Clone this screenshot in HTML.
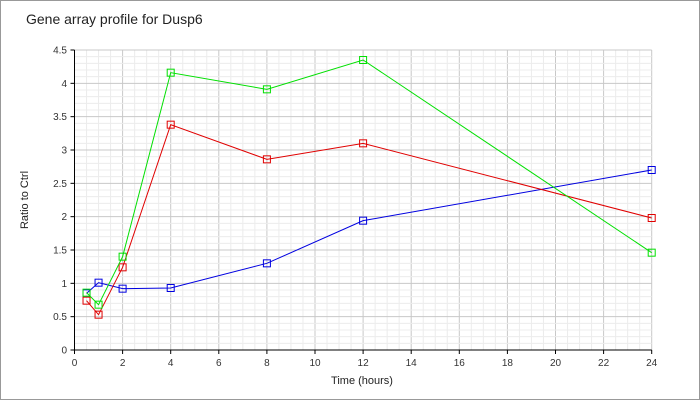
<!DOCTYPE html><html><head><style>body{margin:0;background:#fff}svg{display:block;font-family:"Liberation Sans",sans-serif}</style></head><body>
<svg id="s" width="700" height="400" xmlns="http://www.w3.org/2000/svg">
<rect x="0.5" y="0.5" width="699" height="399" fill="#fff" stroke="#999"/>
<text x="26" y="24" font-size="14" fill="#222">Gene array profile for Dusp6</text>
<text x="362" y="384" font-size="11" text-anchor="middle" fill="#222">Time (hours)</text>
<text transform="translate(28,200) rotate(-90)" font-size="11" text-anchor="middle" fill="#222">Ratio to Ctrl</text>
<g id="g"></g>
</svg>
<script>
var g=document.getElementById('g'),h='';
function px(x){return 74.5+24.05*x}function py(y){return 350-66.667*y}
for(var i=0;i<=48;i++){var x=px(i*0.5);h+='<line x1="'+x+'" y1="50" x2="'+x+'" y2="350" stroke="'+(i%4==0?'#c8c8c8':'#ececec')+'"/>';}
for(var i=0;i<=45;i++){var y=py(i*0.1);h+='<line x1="74.5" y1="'+y+'" x2="651.7" y2="'+y+'" stroke="'+(i%5==0?'#c8c8c8':'#ececec')+'"/>';}
h+='<line x1="74.5" y1="50" x2="74.5" y2="350" stroke="#000"/><line x1="74.5" y1="350" x2="651.7" y2="350" stroke="#000"/>';
for(var i=0;i<=12;i++){var x=px(i*2);h+='<line x1="'+x+'" y1="350" x2="'+x+'" y2="354" stroke="#000"/><text x="'+x+'" y="366" font-size="10" text-anchor="middle" fill="#333">'+i*2+'</text>';}
for(var i=0;i<=9;i++){var y=py(i*0.5);h+='<line x1="70.5" y1="'+y+'" x2="74.5" y2="'+y+'" stroke="#000"/><text x="67" y="'+(y+3.5)+'" font-size="10" text-anchor="end" fill="#333">'+(i*0.5)+'</text>';}
var X=[0.5,1,2,4,8,12,24];
var S=[['#0000e0',[0.85,1.01,0.92,0.93,1.3,1.94,2.7]],['#e00000',[0.74,0.53,1.24,3.38,2.86,3.1,1.98]],['#00e000',[0.86,0.68,1.4,4.16,3.91,4.35,1.46]]];
S.forEach(function(s){var p=X.map(function(x,k){return px(x)+','+py(s[1][k])}).join(' ');
h+='<polyline points="'+p+'" fill="none" stroke="'+s[0]+'"/>';
X.forEach(function(x,k){h+='<rect x="'+(px(x)-3.5)+'" y="'+(py(s[1][k])-3.5)+'" width="7" height="7" fill="none" stroke="'+s[0]+'"/>';});});
g.innerHTML=h;
</script></body></html>
